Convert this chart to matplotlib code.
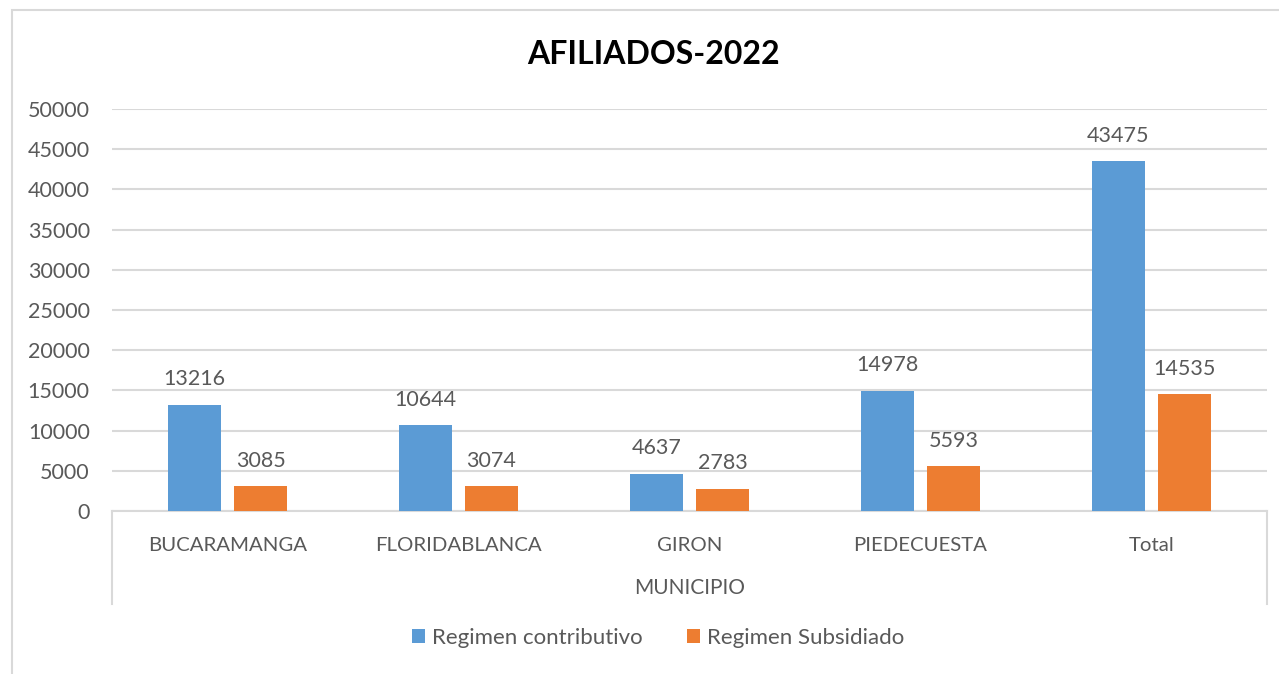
import matplotlib.pyplot as plt
from matplotlib.patches import Rectangle
import numpy as np

# datos del grafico
municipios = ["BUCARAMANGA", "FLORIDABLANCA", "GIRON", "PIEDECUESTA", "Total"]
contributivo = [13216, 10644, 4637, 14978, 43475]
subsidiado = [3085, 3074, 2783, 5593, 14535]
series_names = ["Regimen contributivo", "Regimen Subsidiado"]
grupo = "MUNICIPIO"
titulo = "AFILIADOS-2022"

BLUE = "#5B9BD5"
ORANGE = "#ED7D31"
TXT = "#595959"
GRID = "#D9D9D9"

plt.rcParams['font.family'] = ['Lato', 'DejaVu Sans']

W, H = 1279, 674
fig = plt.figure(figsize=(W / 100, H / 100), dpi=100)

# marco del grafico (se sale por la derecha y abajo)
fig.patches.append(Rectangle((12 / W, -0.1), 1.2, (H - 10) / H + 0.1,
                             transform=fig.transFigure, fill=False,
                             edgecolor=GRID, lw=1.5))

x0, x1, y0, y1 = 112, 1267, 511, 109
ax = fig.add_axes([x0 / W, (H - y0) / H, (x1 - x0) / W, (y0 - y1) / H])

x = np.arange(len(municipios))
bw = 0.23
off = 0.143
b1 = ax.bar(x - off, contributivo, bw, color=BLUE, label=series_names[0], zorder=3)
b2 = ax.bar(x + off, subsidiado, bw, color=ORANGE, label=series_names[1], zorder=3)

for bars in (b1, b2):
    for r in bars:
        ax.annotate(str(int(r.get_height())), (r.get_x() + r.get_width() / 2, r.get_height()),
                    xytext=(0, 11), textcoords="offset points", ha="center", va="bottom",
                    fontsize=15.5, color=TXT)

ax.set_xlim(-0.5, len(municipios) - 0.5)
ax.set_ylim(0, 50000)
ax.set_yticks(range(0, 50001, 5000))
ax.yaxis.grid(True, color=GRID, lw=1.5, zorder=0)
ax.tick_params(axis="y", length=0, pad=16, labelsize=15.5, labelcolor=TXT)
ax.tick_params(axis="x", length=0, pad=19, labelsize=14.7, labelcolor=TXT)
ax.set_xticks(x)
ax.set_xticklabels(municipios)
for s in ("top", "right", "left"):
    ax.spines[s].set_visible(False)
ax.spines["bottom"].set_color(GRID)
ax.spines["bottom"].set_linewidth(1.5)

# lineas verticales del eje de categorias multinivel
for xp in (x0, x1):
    fig.add_artist(plt.Line2D([xp / W, xp / W], [(H - y0) / H, (H - 604) / H],
                              transform=fig.transFigure, color=GRID, lw=1.5))

fig.text((x0 + x1) / 2 / W, (H - 588) / H, grupo, ha="center", va="center",
         fontsize=15, color=TXT)
fig.text(653 / W, (H - 55) / H, titulo, ha="center", va="center",
         fontsize=23, fontweight="bold", color="black")

fig.legend(handles=[b1, b2], loc="center", bbox_to_anchor=(658 / W, (H - 638) / H),
           ncol=2, frameon=False, fontsize=16, labelcolor=TXT,
           handlelength=0.6, handleheight=0.6, handletextpad=0.3, columnspacing=2.0)

fig.savefig("out.png", dpi=100)
